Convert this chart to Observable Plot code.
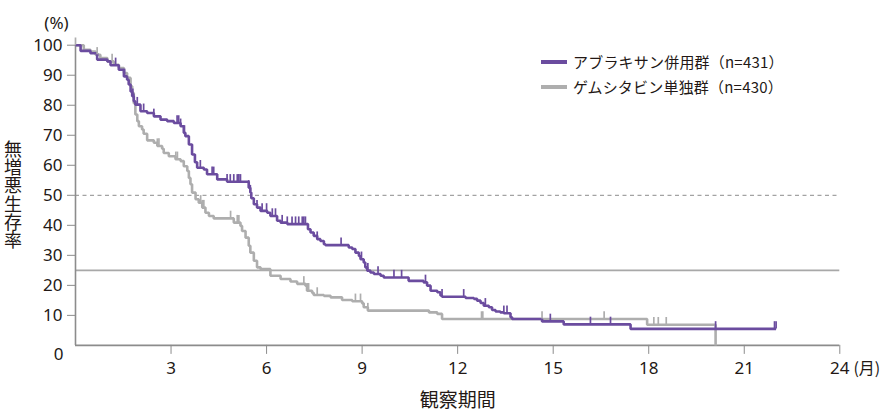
<!DOCTYPE html>
<html><head><meta charset="utf-8">
<script src="https://cdn.jsdelivr.net/npm/d3@7"></script>
<script src="https://cdn.jsdelivr.net/npm/@observablehq/plot@0.6"></script>
<style>
body{margin:0;background:#fff;}
#wrap{position:relative;width:884px;height:414px;}
.leg{position:absolute;left:541px;font-family:'Noto Sans CJK JP','Noto Sans',sans-serif;font-size:15px;letter-spacing:0.2px;color:#231815;display:flex;align-items:center;white-space:nowrap;line-height:20px;}
.leg span.sw{display:inline-block;width:26px;height:4px;margin-right:6px;}
.ytitle{position:absolute;left:3px;top:140px;font-family:'Noto Sans CJK JP',sans-serif;font-size:18px;line-height:19px;writing-mode:vertical-rl;text-orientation:upright;color:#231815;letter-spacing:0.3px;}
</style>
</head><body>
<div id="wrap"></div>
<script>
// ---- data ----
const seriesNames = ["アブラキサン併用群（n=431）", "ゲムシタビン単独群（n=430）"];
const seriesColors = ["#6b4c9f", "#aeaeae"];

const purpleT = [0,0.16,0.47,0.68,1.0,1.1,1.36,1.52,1.62,1.67,1.73,1.78,1.83,1.88,2.04,2.25,2.46,2.67,2.88,3.09,3.30,3.40,3.45,3.56,3.66,3.75,3.82,4.03,4.13,4.45,4.76,5.44,5.49,5.52,5.60,5.70,5.81,6.02,6.12,6.33,6.44,6.65,7.30,7.38,7.48,7.59,7.69,7.80,7.85,8.58,8.69,8.79,8.90,8.95,9.05,9.10,9.16,9.26,9.37,9.58,9.68,10.46,10.93,11.04,11.15,11.36,11.46,11.51,12.25,12.51,12.61,12.72,12.82,12.98,13.08,13.19,13.34,13.45,13.66,13.71,14.65,15.33,17.43,22.0];
const purpleS = [100,98.1,97.3,95.2,94.6,93.3,91.8,89.6,88.5,86.9,84.6,83.0,81.3,80.2,78.0,77.4,76.3,75.2,74.7,74.1,73.0,70.8,69.7,66.9,63.6,61.0,59.2,58.6,57.0,55.3,54.5,52.5,50.9,49.0,47.0,45.9,44.8,44.2,43.1,41.5,40.9,40.4,38.7,37.6,36.5,35.4,34.8,33.7,33.4,32.6,32.1,30.9,29.8,28.7,27.6,26.0,24.9,24.3,23.8,23.2,22.6,21.5,21.0,19.9,18.2,17.7,16.6,16.2,15.8,15.5,14.9,14.1,13.2,12.7,11.8,11.3,11.0,10.7,9.4,8.8,8.0,7.0,5.5,5.5];

const grayT = [0,0.26,0.47,0.63,0.78,1.0,1.2,1.36,1.52,1.62,1.73,1.78,1.83,1.88,1.94,1.99,2.09,2.14,2.25,2.46,2.57,2.72,2.77,2.93,3.14,3.30,3.40,3.51,3.56,3.61,3.66,3.77,3.87,3.98,4.08,4.19,4.34,4.97,5.18,5.23,5.34,5.44,5.49,5.60,5.70,5.81,6.12,6.44,6.75,6.96,7.22,7.27,7.43,7.48,7.80,8.01,8.37,8.69,9.00,9.05,9.18,11.10,11.36,11.51,17.95,20.1];
const grayS = [100,98.5,97.9,96.8,95.7,94.6,93.5,92.4,90.7,89.1,86.3,84.1,80.7,76.9,74.7,73.0,71.9,70.5,68.3,67.5,66.4,65.5,64.1,63.0,62.0,61.4,59.7,58.1,55.8,53.7,50.9,48.7,47.5,45.9,44.2,43.1,42.3,40.9,39.8,38.1,35.9,33.2,30.9,28.2,26.0,25.4,23.2,22.1,21.3,20.5,19.9,18.2,17.5,16.8,16.5,16.0,15.1,14.7,14.0,12.7,11.6,11.0,10.5,8.8,6.9,0];

const purpleCensor = [1.26,1.54,1.80,1.83,1.94,2.14,2.46,3.19,3.24,3.30,3.42,3.92,4.29,4.34,4.76,4.86,4.97,5.08,5.13,5.18,5.44,5.49,5.70,5.86,6.00,6.18,6.28,6.49,6.65,6.80,6.91,7.01,7.12,7.17,7.22,7.59,8.34,8.98,9.18,9.50,10.0,10.24,10.99,11.51,12.19,12.87,13.45,13.55,14.91,16.17,16.8,20.1,21.95,22.0];
const grayCensor = [0,0.68,1.15,2.57,2.62,3.15,3.20,3.93,3.98,4.03,4.87,5.08,5.13,7.17,7.27,7.30,7.32,7.59,8.79,8.95,9.18,12.75,12.79,14.65,16.6,18.16,18.3,18.55];

const xTicks = [3,6,9,12,15,18,21,24];
const yTicks = [10,20,30,40,50,60,70,80,90,100];
const refDashed = [50];
const refSolid = [25];
const xTitle = "観察期間";
const yTitle = "無増悪生存率";
const yUnit = "(%)";
const xUnit = "(月)";

// ---- build ----
function curve(T, S, g) { return T.map((t, i) => ({t, s: S[i], g})); }
function stepAt(T, S, t) { let v = S[0]; for (let i = 0; i < T.length; i++) if (T[i] <= t) v = S[i]; return v; }
const lines = [...curve(grayT, grayS, 1), ...curve(purpleT, purpleS, 0)];
const censors = [
  ...grayCensor.map(t => ({t, s: stepAt(grayT, grayS, t), g: 1})),
  ...purpleCensor.map(t => ({t, s: stepAt(purpleT, purpleS, t), g: 0}))
];

const axisGray = "#8c8c8c";
const textCol = "#231815";
const font = "'Noto Sans','Noto Sans CJK JP',sans-serif";
const cjk = "'Noto Sans CJK JP',sans-serif";

const chart = Plot.plot({
  width: 884, height: 414,
  marginLeft: 75, marginRight: 44.7, marginTop: 44.7, marginBottom: 69.1,
  style: {fontFamily: font, fontSize: "17px", color: textCol, background: "#fff"},
  x: {domain: [0, 24]},
  y: {domain: [0, 100]},
  marks: [
    Plot.ruleY(refDashed, {stroke: "#8c8c8c", strokeDasharray: "4,3.5", strokeWidth: 1}),
    Plot.ruleY(refSolid, {stroke: "#a8a8a8", strokeWidth: 1.6}),
    Plot.ruleX([0], {y1: 0, y2: 100, stroke: axisGray, strokeWidth: 1.6}),
    Plot.ruleY([0], {stroke: axisGray, strokeWidth: 1.6}),
    Plot.axisY({ticks: yTicks, tickSize: 8, tickPadding: 5, stroke: axisGray, fill: textCol, label: null, fontSize: 17}),
    Plot.axisX({ticks: xTicks, tickSize: 9, tickPadding: 8, stroke: axisGray, fill: textCol, label: null, fontSize: 17}),
    Plot.text([0], {x: 0, y: d => d, text: d => String(d), dx: -17, dy: 9, fill: textCol, fontSize: 17}),
    Plot.text([yUnit], {frameAnchor: "top-left", textAnchor: "middle", lineAnchor: "middle", dx: -19, dy: -22, fill: textCol, fontSize: 17}),
    Plot.text([xUnit], {frameAnchor: "bottom-right", textAnchor: "middle", lineAnchor: "middle", dx: 27, dy: 23, fill: textCol, fontSize: 16, fontFamily: cjk}),
    Plot.text([xTitle], {frameAnchor: "bottom", textAnchor: "middle", lineAnchor: "middle", dy: 56, fill: textCol, fontSize: 19, fontFamily: cjk}),
    Plot.line(lines, {x: "t", y: "s", z: "g", stroke: d => seriesColors[d.g], curve: "step-after", strokeWidth: 2.6, strokeLinejoin: "miter", strokeLinecap: "butt"}),
    Plot.ruleX(censors, {x: "t", y1: "s", y2: d => d.s + 2.4, stroke: d => seriesColors[d.g], strokeWidth: 1.7})
  ]
});
const wrap = document.getElementById("wrap");
wrap.appendChild(chart);
const yt = document.createElement("div");
yt.className = "ytitle";
yt.textContent = yTitle;
wrap.appendChild(yt);
seriesNames.forEach((n, i) => {
  const d = document.createElement("div");
  d.className = "leg";
  d.style.top = (i === 0 ? 52 : 77) + "px";
  d.innerHTML = `<span class="sw" style="background:${seriesColors[i]}"></span>${n}`;
  wrap.appendChild(d);
});
</script>
</body></html>
